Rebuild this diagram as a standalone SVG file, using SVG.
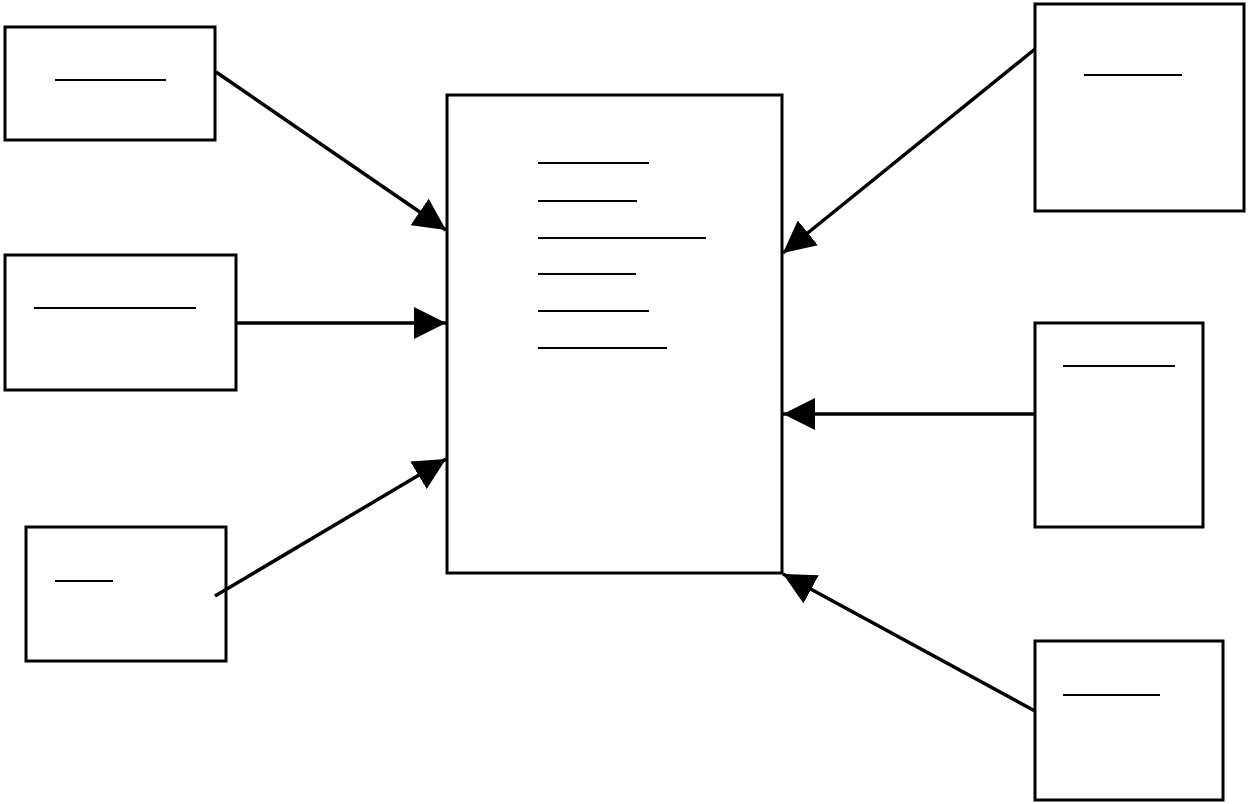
<svg xmlns="http://www.w3.org/2000/svg" width="1248" height="804" viewBox="0 0 1248 804">
<defs>
<style>
.box{fill:#fff;stroke:#000;stroke-width:3}
.ul{stroke:#000;stroke-width:2}
.conn{stroke:#000;stroke-width:3.5;fill:none}
</style>
<marker id="ah" markerUnits="userSpaceOnUse" markerWidth="32" markerHeight="32" viewBox="0 0 32 32" refX="32" refY="16" orient="auto">
<path d="M0,0 L32,16 L0,32 z" fill="#000"/>
</marker>
</defs>
<rect width="1248" height="804" fill="#fff"/>
<g id="n-left1"><rect class="box" x="5" y="27" width="210" height="113"/><line class="ul" x1="55" y1="80" x2="166" y2="80"/></g>
<g id="n-left2"><rect class="box" x="5" y="255" width="231" height="135"/><line class="ul" x1="34" y1="308" x2="196" y2="308"/></g>
<g id="n-left3"><rect class="box" x="26" y="527" width="200" height="134"/><line class="ul" x1="55" y1="581" x2="113" y2="581"/></g>
<g id="n-center"><rect class="box" x="447" y="95" width="335" height="478"/>
<line class="ul" x1="538" y1="163" x2="649" y2="163"/>
<line class="ul" x1="538" y1="201" x2="637" y2="201"/>
<line class="ul" x1="538" y1="238" x2="706" y2="238"/>
<line class="ul" x1="538" y1="274" x2="636" y2="274"/>
<line class="ul" x1="538" y1="311" x2="649" y2="311"/>
<line class="ul" x1="538" y1="348" x2="667" y2="348"/>
</g>
<g id="n-right1"><rect class="box" x="1035" y="4" width="209" height="207"/><line class="ul" x1="1084" y1="75" x2="1182" y2="75"/></g>
<g id="n-right2"><rect class="box" x="1035" y="323" width="168" height="204"/><line class="ul" x1="1063" y1="366" x2="1175" y2="366"/></g>
<g id="n-right3"><rect class="box" x="1035" y="641" width="188" height="159"/><line class="ul" x1="1063" y1="695" x2="1160" y2="695"/></g>
<g id="connectors">
<line class="conn" x1="216" y1="72" x2="446" y2="230" marker-end="url(#ah)"/>
<line class="conn" x1="236" y1="323" x2="446" y2="323" marker-end="url(#ah)"/>
<line class="conn" x1="215" y1="596" x2="446" y2="459" marker-end="url(#ah)"/>
<line class="conn" x1="1035" y1="49" x2="783" y2="253" marker-end="url(#ah)"/>
<line class="conn" x1="1035" y1="414" x2="783" y2="414" marker-end="url(#ah)"/>
<line class="conn" x1="1035" y1="711" x2="783" y2="574" marker-end="url(#ah)"/>
</g>
</svg>
